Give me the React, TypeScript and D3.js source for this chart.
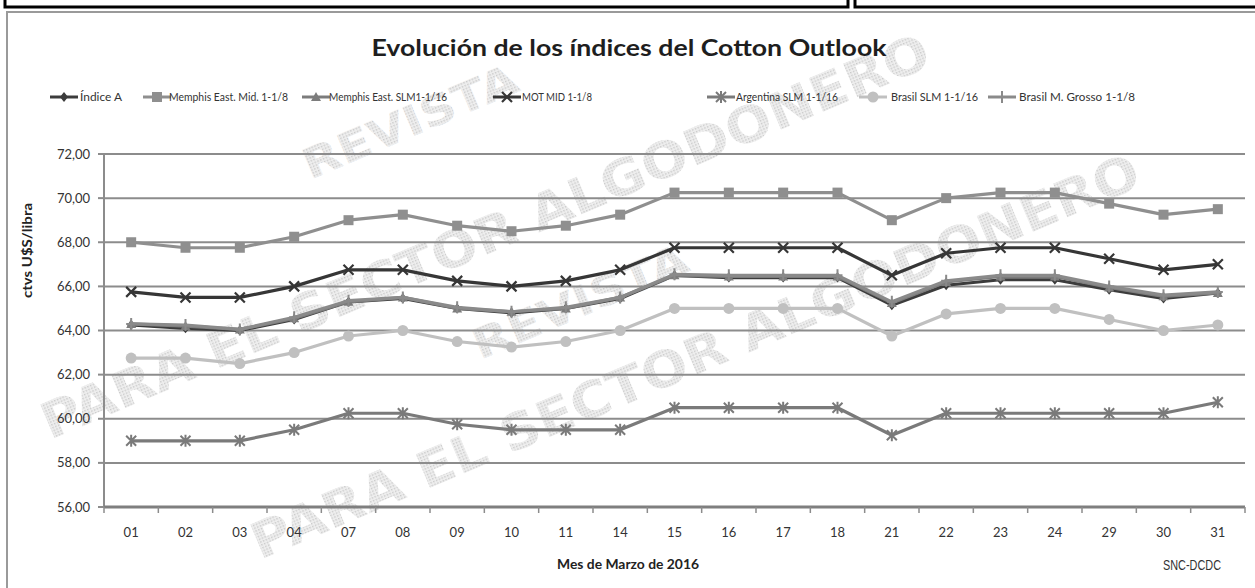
import React from "react";
import * as d3 from "d3";

const categories = ["01","02","03","04","07","08","09","10","11","14","15","16","17","18","21","22","23","24","29","30","31"];
const indiceA = [64.25,64.1,64.0,64.5,65.3,65.45,65.0,64.8,65.0,65.45,66.5,66.4,66.4,66.4,65.15,66.05,66.3,66.3,65.85,65.45,65.7];
const memphisMid = [68.0,67.75,67.75,68.25,69.0,69.25,68.75,68.5,68.75,69.25,70.25,70.25,70.25,70.25,69.0,70.0,70.25,70.25,69.75,69.25,69.5];
const memphisSLM = [64.3,64.2,64.05,64.55,65.3,65.5,65.0,64.85,65.0,65.5,66.5,66.45,66.45,66.45,65.25,66.2,66.45,66.45,65.95,65.55,65.7];
const motMid = [65.75,65.5,65.5,66.0,66.75,66.75,66.25,66.0,66.25,66.75,67.75,67.75,67.75,67.75,66.5,67.5,67.75,67.75,67.25,66.75,67.0];
const argentina = [59.0,59.0,59.0,59.5,60.25,60.25,59.75,59.5,59.5,59.5,60.5,60.5,60.5,60.5,59.25,60.25,60.25,60.25,60.25,60.25,60.75];
const brasilSLM = [62.75,62.75,62.5,63.0,63.75,64.0,63.5,63.25,63.5,64.0,65.0,65.0,65.0,65.0,63.75,64.75,65.0,65.0,64.5,64.0,64.25];
const brasilMG = [64.3,64.25,64.05,64.6,65.35,65.5,65.05,64.85,65.05,65.5,66.55,66.5,66.5,66.5,65.3,66.25,66.5,66.5,66.0,65.6,65.75];
const yTicks = [56,58,60,62,64,66,68,70,72];

const seriesNames = ["Índice A","Memphis East. Mid. 1-1/8","Memphis East. SLM1-1/16","MOT  MID 1-1/8","Argentina SLM 1-1/16","Brasil SLM 1-1/16","Brasil M. Grosso  1-1/8"];
const seriesValues = [indiceA, memphisMid, memphisSLM, motMid, argentina, brasilSLM, brasilMG];
const seriesColors = ["#3c3c3c","#8f8f8f","#7c7c7c","#363636","#7a7a7a","#c0c0c0","#8a8a8a"];
const seriesMarkers = ["diamond","square","triangle","x","star","circle","plus"];

const W = 1255, H = 588;
const M = { left: 104, right: 1245, top: 154, bottom: 507 };

// legend layout: [sample x, text x, text width]
const legendLayout = [
  [50, 80, 42], [143, 169, 119], [302, 329, 118], [493, 522, 70], [707, 736, 102], [859, 891, 87], [988, 1019, 116]
];

function Marker({ type, x, y, color }: { type: string; x: number; y: number; color: string }) {
  switch (type) {
    case "diamond":
      return <path d={`M${x},${y - 5}L${x + 4},${y}L${x},${y + 5}L${x - 4},${y}Z`} fill={color} />;
    case "square":
      return <rect x={x - 5} y={y - 5} width={10} height={10} fill={color} />;
    case "triangle":
      return <path d={`M${x},${y - 5}L${x + 5},${y + 4}L${x - 5},${y + 4}Z`} fill={color} />;
    case "x":
      return <path d={`M${x - 5},${y - 5}L${x + 5},${y + 5}M${x - 5},${y + 5}L${x + 5},${y - 5}`} stroke={color} strokeWidth={2.2} />;
    case "star":
      return <path d={`M${x - 5},${y - 5}L${x + 5},${y + 5}M${x - 5},${y + 5}L${x + 5},${y - 5}M${x},${y - 6}L${x},${y + 6}`} stroke={color} strokeWidth={2} />;
    case "circle":
      return <circle cx={x} cy={y} r={5.5} fill={color} />;
    case "plus":
      return <path d={`M${x},${y - 6}L${x},${y + 6}M${x - 5},${y}L${x + 5},${y}`} stroke={color} strokeWidth={2} />;
  }
  return null;
}

export default function App() {
  const x = d3.scaleBand<string>().domain(categories).range([M.left, M.right]).padding(0);
  const y = d3.scaleLinear().domain([56, 72]).range([M.bottom, M.top]);
  const cx = (c: string) => (x(c) as number) + x.bandwidth() / 2;
  const line = d3.line<number>().x((_, i) => cx(categories[i])).y((v) => y(v));

  const wmFont = "'DejaVu Sans', sans-serif";
  return (
    <svg width={W} height={H} style={{ position: "absolute", left: 0, top: 0, background: "#fff" }}>
      <defs>
        <pattern id="dots" width="3" height="3" patternUnits="userSpaceOnUse">
          <rect width="3" height="3" fill="#ececec" />
          <rect width="1.5" height="1.5" fill="#bdbdbd" />
        </pattern>
      </defs>
      <rect width={W} height={H} fill="#fff" />
      {/* top boxes fragments */}
      <path d="M5,0V7H848V0" fill="none" stroke="#000" strokeWidth={3} />
      <path d="M855,0V7H1255" fill="none" stroke="#000" strokeWidth={3} />
      {/* chart frame */}
      <path d={`M7,${H}V12H${W}`} fill="none" stroke="#9a9a9a" strokeWidth={2} />

      {/* watermark */}
      <g fill="url(#dots)" fontFamily={wmFont} fontWeight="bold" opacity={0.8}>
        <text x={50} y={440} fontSize={50} transform="rotate(-23 50 440)" textLength={960} lengthAdjust="spacingAndGlyphs">PARA EL SECTOR ALGODONERO</text>
        <text x={310} y={180} fontSize={42} transform="rotate(-23 310 180)" textLength={230} lengthAdjust="spacingAndGlyphs">REVISTA</text>
        <text x={260} y={560} fontSize={50} transform="rotate(-23 260 560)" textLength={960} lengthAdjust="spacingAndGlyphs">PARA EL SECTOR ALGODONERO</text>
        <text x={480} y={360} fontSize={42} transform="rotate(-23 480 360)" textLength={230} lengthAdjust="spacingAndGlyphs">REVISTA</text>
      </g>

      {/* title */}
      <text x={629} y={56} textAnchor="middle" fontFamily="Lato, 'Open Sans', sans-serif" fontWeight="bold" fontSize={23} fill="#1e1e1e" textLength={515} lengthAdjust="spacingAndGlyphs">
        Evolución de los índices del Cotton Outlook
      </text>

      {/* legend */}
      {seriesNames.map((n, i) => {
        const [sx, tx, tw] = legendLayout[i];
        return (
          <g key={n}>
            <line x1={sx} x2={sx + 28} y1={97} y2={97} stroke={seriesColors[i]} strokeWidth={3} />
            <Marker type={seriesMarkers[i]} x={sx + 14} y={97} color={seriesColors[i]} />
            <text x={tx} y={101} fontFamily="Lato, 'Open Sans', sans-serif" fontSize={11.5} fill="#333" textLength={tw} lengthAdjust="spacingAndGlyphs">{n}</text>
          </g>
        );
      })}

      {/* grid */}
      {yTicks.map((t) => (
        <g key={t}>
          {t !== 56 && <line x1={M.left} x2={M.right} y1={y(t)} y2={y(t)} stroke="#8c8c8c" strokeWidth={2} />}
          <line x1={M.left - 6} x2={M.left} y1={y(t)} y2={y(t)} stroke="#8c8c8c" strokeWidth={2} />
          <text x={90} y={y(t) + 4.5} textAnchor="end" fontFamily="Lato, 'Open Sans', sans-serif" fontSize={13} fill="#333">
            {d3.format(".2f")(t).replace(".", ",")}
          </text>
        </g>
      ))}
      <line x1={M.left} x2={M.left} y1={M.top} y2={M.bottom} stroke="#8c8c8c" strokeWidth={2} />
      <line x1={M.left} x2={M.right} y1={M.bottom} y2={M.bottom} stroke="#7f7f7f" strokeWidth={3} />
      {categories.map((c, i) => (
        <g key={c}>
          <line x1={x(c) as number} x2={x(c) as number} y1={M.bottom} y2={M.bottom + 6} stroke="#8c8c8c" strokeWidth={1.5} />
          {i === categories.length - 1 && (
            <line x1={M.right} x2={M.right} y1={M.bottom} y2={M.bottom + 6} stroke="#8c8c8c" strokeWidth={1.5} />
          )}
          <text x={cx(c)} y={537} textAnchor="middle" fontFamily="Lato, 'Open Sans', sans-serif" fontSize={13} fill="#333">{c}</text>
        </g>
      ))}

      {/* series */}
      {seriesValues.map((vals, si) => (
        <g key={si}>
          <path d={line(vals) || ""} fill="none" stroke={seriesColors[si]} strokeWidth={3.2} strokeLinejoin="round" />
          {vals.map((v, i) => (
            <Marker key={i} type={seriesMarkers[si]} x={cx(categories[i])} y={y(v)} color={seriesColors[si]} />
          ))}
        </g>
      ))}

      {/* axis titles */}
      <text transform={`translate(32,${(M.top + M.bottom) / 2 - 80}) rotate(-90)`} textAnchor="middle" fontFamily="Lato, 'Open Sans', sans-serif" fontWeight="bold" fontSize={13} fill="#222" textLength={95} lengthAdjust="spacingAndGlyphs">
        ctvs U$S/libra
      </text>
      <text x={628} y={569} textAnchor="middle" fontFamily="Lato, 'Open Sans', sans-serif" fontWeight="bold" fontSize={12.5} fill="#222" textLength={142} lengthAdjust="spacingAndGlyphs">
        Mes de Marzo de 2016
      </text>
      <text x={1192} y={570} textAnchor="middle" fontFamily="'Liberation Sans', Arial, sans-serif" fontSize={15} fill="#333" textLength={58} lengthAdjust="spacingAndGlyphs">
        SNC-DCDC
      </text>
    </svg>
  );
}
